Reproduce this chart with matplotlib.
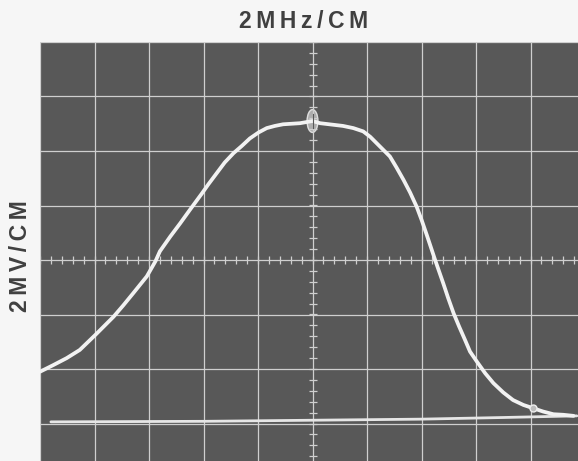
import numpy as np
import matplotlib
matplotlib.use('Agg')
import matplotlib.pyplot as plt
from matplotlib.patches import Ellipse

# trace readings in screen divisions (x: 2 MHz/div, y: 2 mV/div)
trace_x = [-5.0, -4.76, -4.51, -4.27, -3.99, -3.65, -3.47, -3.29, -3.04, -2.88,
           -2.80, -2.61, -2.43, -2.25, -2.03, -1.91, -1.76, -1.61, -1.45, -1.30,
           -1.15, -0.99, -0.84, -0.69, -0.54, -0.23, 0.0, 0.14, 0.56, 0.75,
           0.93, 1.06, 1.18, 1.30, 1.42, 1.54, 1.67, 1.79, 1.91, 2.0,
           2.10, 2.25, 2.40, 2.49, 2.59, 2.69, 2.80, 2.89, 3.02, 3.17,
           3.32, 3.50, 3.68, 3.87, 4.05, 4.23, 4.42, 4.60, 4.79]
trace_y = [-2.05, -1.93, -1.80, -1.65, -1.38, -1.04, -0.83, -0.61, -0.30, -0.02,
           0.16, 0.43, 0.67, 0.92, 1.22, 1.39, 1.59, 1.79, 1.96, 2.09,
           2.23, 2.34, 2.42, 2.46, 2.49, 2.51, 2.55, 2.51, 2.46, 2.42,
           2.36, 2.26, 2.14, 2.02, 1.90, 1.70, 1.47, 1.24, 0.98, 0.74,
           0.45, 0.0, -0.43, -0.70, -0.98, -1.22, -1.47, -1.68, -1.87, -2.08,
           -2.26, -2.43, -2.57, -2.66, -2.72, -2.78, -2.83, -2.84, -2.86]

# zero-signal baseline
base_x = [-4.8, -2.0, 0.0, 2.0, 3.5, 4.85]
base_y = [-2.97, -2.96, -2.94, -2.92, -2.89, -2.86]

# marker blips on the trace
blip_x = [0.0, 4.05]
blip_y = [2.55, -2.72]

HS = '\u2009'
title = HS.join("2MHz/CM")
ylabel = HS.join("2MV/CM")

SCREEN = '#585858'
GRID = '#cfcfcf'
TRACE = '#f2f2f2'
FONT = ['Liberation Sans', 'DejaVu Sans']

fig = plt.figure(figsize=(5.78, 4.61), dpi=100, facecolor='#f6f6f6')
# screen runs off the right and bottom edge of the photo
ax = fig.add_axes([40/578, 1 - 478/461, 545/578, 436/461])
ax.set_facecolor(SCREEN)
ax.set_xlim(-5, 5)
ax.set_ylim(-4, 4)
for s in ax.spines.values():
    s.set_visible(False)
ax.set_xticks(np.arange(-5, 6))
ax.set_yticks(np.arange(-4, 5))
ax.tick_params(length=0, labelbottom=False, labelleft=False)
ax.grid(True, color=GRID, lw=0.9)

# graticule sub-ticks on centre lines
sub = np.arange(-5, 5.01, 0.2)
ax.plot(sub, np.zeros_like(sub), ls='none', marker='|', ms=5.5, mew=0.9, color=GRID)
sub = np.arange(-4, 4.01, 0.2)
ax.plot(np.zeros_like(sub), sub, ls='none', marker='_', ms=5.5, mew=0.9, color=GRID)

ax.plot(base_x, base_y, color='#e6e6e6', lw=2.0, solid_capstyle='round')
ax.plot(trace_x, trace_y, color=TRACE, lw=2.7, solid_joinstyle='round',
        solid_capstyle='round')

ax.add_patch(Ellipse((blip_x[0], blip_y[0]), 0.2, 0.42, facecolor='#bdbdbd',
                     edgecolor='#eeeeee', lw=1.0, alpha=0.85))
ax.plot([blip_x[0]] * 2, [blip_y[0] - 0.12, blip_y[0] + 0.12], color=SCREEN, lw=0.8)
ax.plot(blip_x[1], blip_y[1], marker='o', ms=5, mfc='#bdbdbd', mec='#eeeeee')

fig.text(304/578, 1 - 21/461, title, ha='center', va='center', fontsize=16.5,
         fontweight='bold', color='#404040', family=FONT)
fig.text(21/578, 1 - 256/461, ylabel, ha='center', va='center', fontsize=16.5,
         fontweight='bold', color='#404040', rotation=90, family=FONT)

fig.savefig('out.png', dpi=100, facecolor=fig.get_facecolor())
